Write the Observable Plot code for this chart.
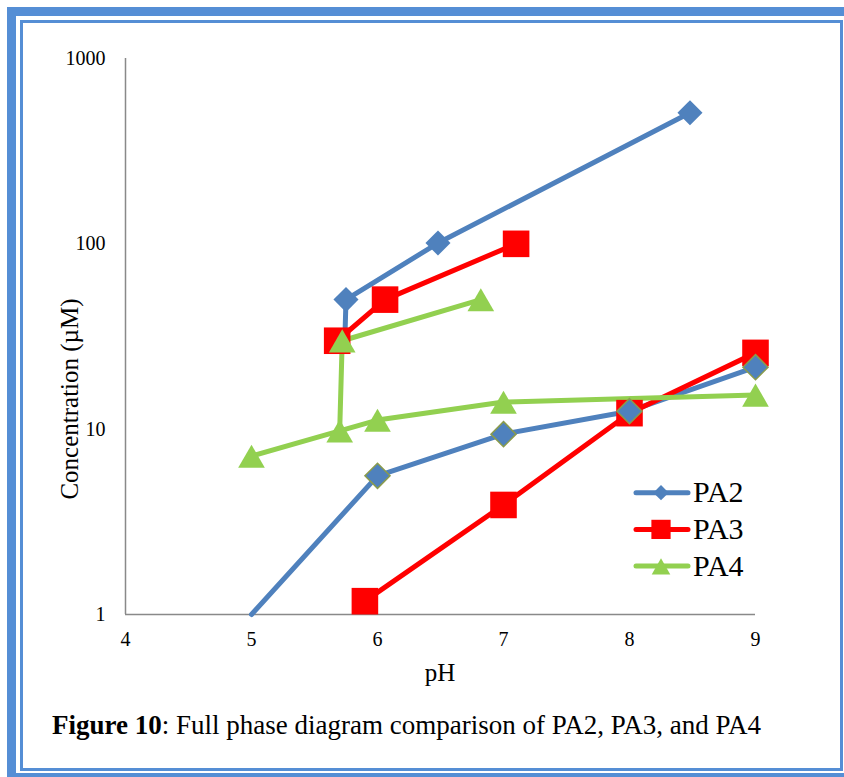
<!DOCTYPE html>
<html>
<head>
<meta charset="utf-8">
<script src="https://cdn.jsdelivr.net/npm/d3@7"></script>
<script src="https://cdn.jsdelivr.net/npm/@observablehq/plot@0.6"></script>
<style>
  html, body { margin: 0; padding: 0; background: #fff; }
  body { width: 844px; height: 777px; position: relative; overflow: hidden; font-family: "Liberation Serif", serif; }
  .outer { position: absolute; left: 7px; top: 7px; width: 850px; height: 775px; border: 9px solid #558ED5; box-sizing: border-box; }
  .inner { position: absolute; left: 20px; top: 20px; width: 823px; height: 751px; border: 3px solid #558ED5; box-sizing: border-box; }
  #chart { position: absolute; left: 0; top: 0; }
  #chart svg, #chart svg text { font-family: "Liberation Serif", serif !important; }
  #overlay { position: absolute; left: 0; top: 0; pointer-events: none; }
  #overlay text { font-family: "Liberation Serif", serif; }
</style>
</head>
<body>
<div class="outer"></div>
<div class="inner"></div>
<div id="chart"></div>
<svg id="overlay" width="844" height="777"></svg>
<script>
// ---- data ----
const seriesNames = ["PA2", "PA3", "PA4"];
const seriesColors = ["#4F81BD", "#FF0000", "#92D050"];
const xTicks = [4, 5, 6, 7, 8, 9];
const yTicks = [1, 10, 100, 1000];

const pa2LowX = [5, 6, 7, 8, 9];
const pa2LowY = [1, 5.6, 9.4, 12.5, 21.6];
const pa2LowMarker = [false, true, true, true, true];
const pa2UpX = [5.74, 5.75, 6.48, 8.48];
const pa2UpY = [29, 50, 101, 510];
const pa2UpMarker = [false, true, true, true];

const pa3LowX = [5.9, 7.0, 8.0, 9.0];
const pa3LowY = [1.18, 3.9, 12.2, 25.8];
const pa3UpX = [5.68, 6.06, 7.1];
const pa3UpY = [30, 50, 100];

const pa4LowX = [5.0, 5.7, 6.0, 7.0, 9.0];
const pa4LowY = [7.15, 9.8, 11.2, 14.0, 15.3];
const pa4UpX = [5.7, 5.72, 6.82];
const pa4UpY = [9.8, 30, 50];
const pa4UpMarker = [false, true, true];

const xTitle = "pH";
const yTitle = "Concentration (\u00B5M)";
const captionBold = "Figure 10";
const captionRest = ": Full phase diagram comparison of PA2, PA3, and PA4";

// ---- table ----
function branch(series, id, xs, ys, markers) {
  return xs.map((x, i) => ({series, branch: id, x, y: ys[i], marker: markers ? markers[i] : true}));
}
const rows = [
  ...branch("PA2", "PA2-low", pa2LowX, pa2LowY, pa2LowMarker),
  ...branch("PA2", "PA2-up", pa2UpX, pa2UpY, pa2UpMarker),
  ...branch("PA3", "PA3-low", pa3LowX, pa3LowY),
  ...branch("PA3", "PA3-up", pa3UpX, pa3UpY),
  ...branch("PA4", "PA4-low", pa4LowX, pa4LowY),
  ...branch("PA4", "PA4-up", pa4UpX, pa4UpY, pa4UpMarker)
];
const pts = (f) => rows.filter(d => d.marker && f(d));
const serif = "Liberation Serif";

const chart = Plot.plot({
  width: 844,
  height: 700,
  marginLeft: 125,
  marginRight: 89,
  marginTop: 58,
  marginBottom: 86,
  style: {fontFamily: serif, fontSize: "20px", color: "#000", background: "transparent", overflow: "visible"},
  x: {type: "linear", domain: [4, 9]},
  y: {type: "log", domain: [1, 1000]},
  color: {domain: seriesNames, range: seriesColors},
  marks: [
    Plot.ruleY([1], {stroke: "#898989", strokeWidth: 1.5}),
    Plot.ruleX([4], {stroke: "#898989", strokeWidth: 1.5}),
    Plot.axisX({ticks: xTicks, tickSize: 0, tickPadding: 17, tickFormat: d => String(d), label: null, fill: "#000", fontFamily: serif, fontSize: 20}),
    Plot.axisY({ticks: yTicks, tickSize: 0, tickPadding: 20, tickFormat: d => String(d), label: null, fill: "#000", fontFamily: serif, fontSize: 20}),
    Plot.line(rows, {x: "x", y: "y", z: "branch", stroke: "series", strokeWidth: 5, strokeLinejoin: "round", strokeLinecap: "round"}),
    Plot.dot(pts(d => d.branch === "PA2-up"), {x: "x", y: "y", fill: "series", symbol: "diamond2", r: 11.3, stroke: "none"}),
    Plot.dot(pts(d => d.series === "PA3"), {x: "x", y: "y", fill: "series", symbol: "square", r: 15, stroke: "none"}),
    Plot.dot(pts(d => d.series === "PA4"), {x: "x", y: "y", fill: "series", symbol: "triangle", r: 9.9, dy: 4, stroke: "none"}),
    Plot.dot(pts(d => d.branch === "PA2-low"), {x: "x", y: "y", fill: "series", symbol: "diamond2", r: 11.3, stroke: "#8A9B4C", strokeWidth: 1.5})
  ]
});
document.getElementById("chart").appendChild(chart);

// ---- overlay: axis titles, legend, caption ----
const ov = d3.select("#overlay");

ov.append("text").attr("x", 440).attr("y", 681).attr("text-anchor", "middle")
  .style("font-family", serif).attr("font-size", 25).text(xTitle);

ov.append("text").attr("transform", "translate(78,399) rotate(-90)").attr("text-anchor", "middle")
  .style("font-family", serif).attr("font-size", 25).text(yTitle);

const legSymbols = [d3.symbolDiamond2, d3.symbolSquare, d3.symbolTriangle];
const legSizes = [150, 370, 150];
const legend = ov.append("g");
seriesNames.forEach((name, i) => {
  const y = 492.7 + i * 36.7;
  const g = legend.append("g").attr("transform", `translate(0,${y})`);
  g.append("line").attr("x1", 636).attr("x2", 688).attr("y1", 0).attr("y2", 0)
    .attr("stroke", seriesColors[i]).attr("stroke-width", 5).attr("stroke-linecap", "round");
  g.append("path").attr("d", d3.symbol(legSymbols[i], legSizes[i])())
    .attr("transform", `translate(661,${i === 2 ? 3 : 0})`).attr("fill", seriesColors[i]);
  g.append("text").attr("x", 693).attr("y", 9.5).style("font-family", serif).attr("font-size", 30).text(name);
});

const cap = ov.append("text").attr("x", 52).attr("y", 734).style("font-family", serif).attr("font-size", 27);
cap.append("tspan").attr("font-weight", "bold").text(captionBold);
cap.append("tspan").text(captionRest);
</script>
</body>
</html>
